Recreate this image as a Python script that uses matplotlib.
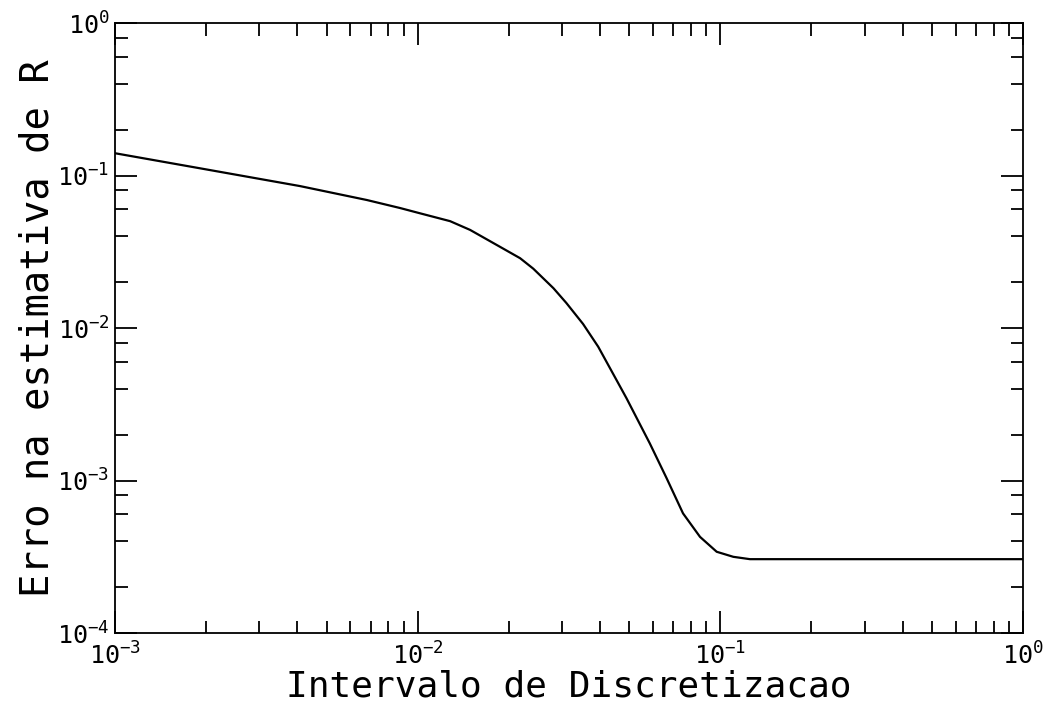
import matplotlib
matplotlib.use('Agg')
import matplotlib.pyplot as plt
from matplotlib.ticker import LogLocator, LogFormatterMathtext, NullFormatter

# valores
intervalo = [1.0e-3, 1.91e-3, 4.08e-3, 6.79e-3, 8.75e-3, 1.019e-2, 1.28e-2,
             1.49e-2, 1.87e-2, 2.18e-2, 2.41e-2, 2.81e-2, 3.10e-2, 3.52e-2,
             3.95e-2, 4.54e-2, 4.90e-2, 5.85e-2, 6.64e-2, 7.53e-2, 8.57e-2,
             9.73e-2, 0.1104, 0.1253, 1.0]
erro = [0.140, 0.1115, 0.0853, 0.0691, 0.0612, 0.0565, 0.0502,
        0.0440, 0.0341, 0.0287, 0.0245, 0.01824, 0.01459, 0.01063,
        0.00754, 0.00456, 0.00346, 0.00175, 1.04e-3, 6.09e-4, 4.27e-4,
        3.41e-4, 3.16e-4, 3.05e-4, 3.05e-4]

xlabel = 'Intervalo de Discretizacao'
ylabel = 'Erro na estimativa de R'

plt.rcParams['font.family'] = ['DejaVu Sans Mono']
plt.rcParams['mathtext.fontset'] = 'custom'
plt.rcParams['mathtext.rm'] = 'DejaVu Sans Mono'
plt.rcParams['mathtext.it'] = 'DejaVu Sans Mono'
plt.rcParams['mathtext.default'] = 'rm'

fig = plt.figure(figsize=(10.52, 7.08), dpi=100)
ax = fig.add_axes([0.1093, 0.1059, 0.8631, 0.8616])

ax.plot(intervalo, erro, color='black', lw=1.6)

ax.set_xscale('log')
ax.set_yscale('log')
ax.set_xlim(1e-3, 1)
ax.set_ylim(1e-4, 1)

ax.xaxis.set_major_locator(LogLocator(base=10, numticks=10))
ax.xaxis.set_minor_locator(LogLocator(base=10, subs=range(2, 10), numticks=10))
ax.yaxis.set_major_locator(LogLocator(base=10, numticks=10))
ax.yaxis.set_minor_locator(LogLocator(base=10, subs=(2, 4, 6, 8), numticks=10))
for a in (ax.xaxis, ax.yaxis):
    a.set_major_formatter(LogFormatterMathtext())
    a.set_minor_formatter(NullFormatter())

ax.tick_params(which='both', direction='in', top=True, right=True,
               width=1.3, colors='black')
ax.tick_params(which='major', length=16, labelsize=18)
ax.tick_params(which='minor', length=9)
ax.tick_params(axis='x', which='major', pad=7)
ax.tick_params(axis='y', which='major', pad=4)
for s in ax.spines.values():
    s.set_linewidth(1.3)

ax.set_xlabel(xlabel, fontsize=26, labelpad=0)
ax.set_ylabel(ylabel, fontsize=28, labelpad=0)

fig.savefig('out.png', dpi=100)
